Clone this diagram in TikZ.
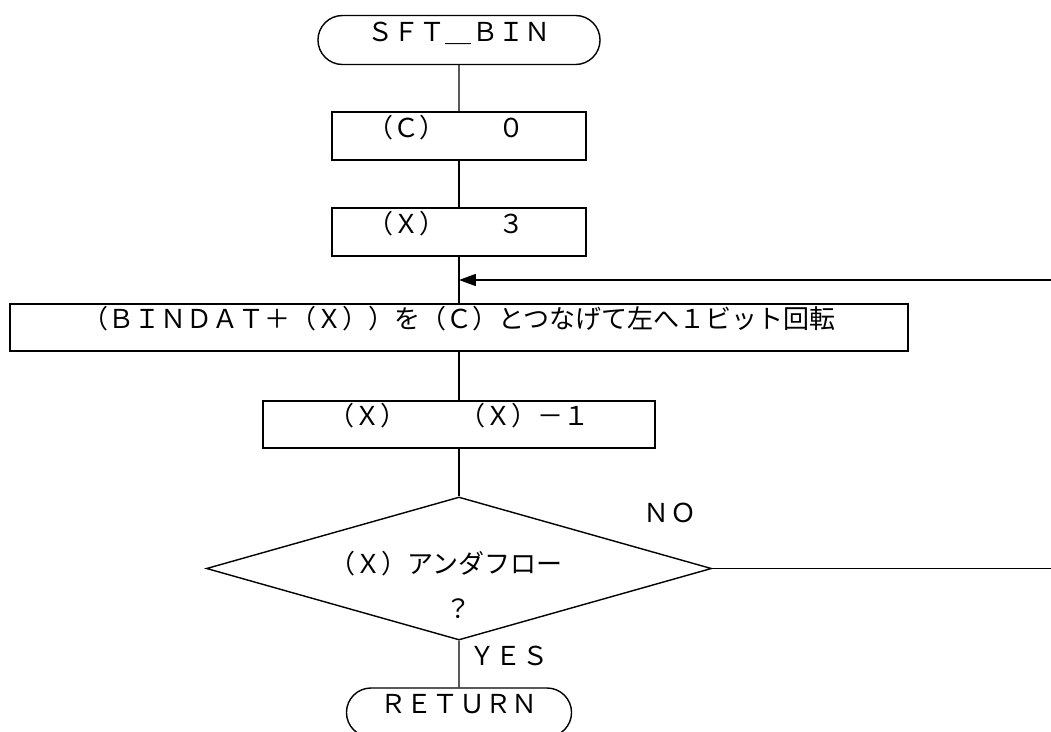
\documentclass[tikz,border=0pt]{standalone}
\usepackage{fontspec}
\setmainfont{Noto Sans CJK JP}
\usepackage{tikz}
\usetikzlibrary{arrows.meta,shapes,positioning}

\tikzset{
  flowline/.style={line width=1pt},
  flowtext/.style={font=\fontsize{18.5}{22}\selectfont, text height=0.35cm, text depth=0.3cm, inner sep=0pt},
  terminal/.style={flowtext, draw, line width=1pt, rounded rectangle, minimum height=1.225cm},
  process/.style={flowtext, draw, line width=1pt, rectangle, minimum height=1.2cm},
  decision/.style={draw, line width=1pt, diamond, inner sep=0pt, aspect=3.5, minimum width=12.625cm, minimum height=3.575cm}
}

\begin{document}
\begin{tikzpicture}[x=0.025cm, y=-0.025cm]
  \useasboundingbox (0,0) rectangle (1051,731);
  \node[terminal, minimum width=7.05cm] (start) at (459,40) {ＳＦＴ＿ＢＩＮ};
  \node[process, minimum width=6.35cm] (clrc) at (459,136) {（Ｃ）　　０　};
  \node[process, minimum width=6.35cm] (setx) at (459,232) {（Ｘ）　　３　};
  \node[process, minimum width=22.45cm, minimum height=1.175cm] (rotate) at (459,327.5) {（ＢＩＮＤＡＴ＋（Ｘ））を（Ｃ）とつなげて左へ１ビット回転};
  \node[process, minimum width=9.8cm, minimum height=1.175cm] (decx) at (459,424.5) {（Ｘ）　　（Ｘ）－１};
  \node[decision] (under) at (459,568.5) {};
  \node[flowtext] (undertext) at (459,572) {（Ｘ）アンダフロー　};
  \node[flowtext] (underq) at (459,617) {？};
  \node[terminal, minimum width=5.625cm] (return) at (459,712.5) {ＲＥＴＵＲＮ};
  \node[flowtext] (nolabel) at (670,521) {ＮＯ};
  \node[flowtext] (yeslabel) at (509,664) {ＹＥＳ};
  \coordinate (loopin) at (1051,280);
  \coordinate (noout) at (1051,568.5);

  \draw[flowline] (start) -- (clrc);
  \draw[flowline] (clrc) -- (setx);
  \draw[flowline] (setx) -- (rotate);
  \draw[flowline] (rotate) -- (decx);
  \draw[flowline] (decx) -- (under.north);
  \draw[flowline] (under.south) -- (return);
  \draw[flowline] (under.east) -- (noout);
  \draw[flowline, -{Triangle[length=0.42cm, width=0.3cm]}] (loopin) -- (loopin -| setx.south);
\end{tikzpicture}
\end{document}
